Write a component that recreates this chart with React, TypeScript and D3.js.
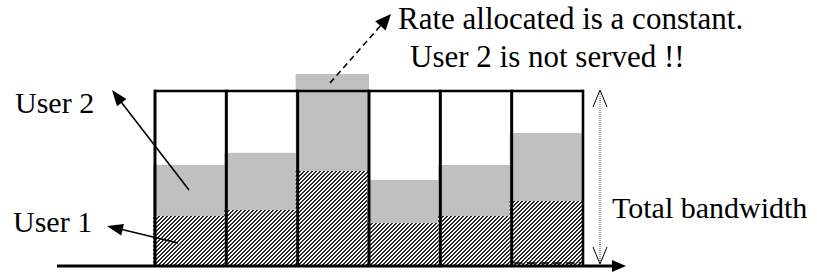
import React from "react";
import * as d3 from "d3";

const slots = ["t1", "t2", "t3", "t4", "t5", "t6"];
const user1 = [28.2, 31.6, 54.0, 24.1, 28.2, 36.8];
const user2 = [29.3, 32.9, 55.8, 24.8, 29.3, 39.1];
const totalBandwidth = 100;

const W = 817;
const H = 278;
const FONT = "Liberation Serif";

export default function App() {
  const x = d3.scaleBand<string>().domain(slots).range([155, 583]).padding(0);
  const y = d3.scaleLinear().domain([0, totalBandwidth]).range([265, 91]);
  const bw = x.bandwidth();
  const y0 = y(0);
  const yTop = y(totalBandwidth);
  const line = d3.line<[number, number]>();

  const arrowHead = (tip: [number, number], from: [number, number], len: number, half: number) => {
    const dx = tip[0] - from[0];
    const dy = tip[1] - from[1];
    const d = Math.hypot(dx, dy);
    const ux = dx / d, uy = dy / d;
    const bx = tip[0] - ux * len, by = tip[1] - uy * len;
    const px = -uy, py = ux;
    return `M${tip[0]},${tip[1]}L${bx + px * half},${by + py * half}L${bx - px * half},${by - py * half}Z`;
  };

  const openHead = (tip: [number, number], dir: number) =>
    `M${tip[0] - 7},${tip[1] + dir * 17}L${tip[0]},${tip[1]}L${tip[0] + 7},${tip[1] + dir * 17}`;

  const u2from: [number, number] = [189, 190];
  const u2tip: [number, number] = [112, 90];
  const u1from: [number, number] = [178, 243];
  const u1tip: [number, number] = [107, 226];
  const rFrom: [number, number] = [330, 83];
  const rTip: [number, number] = [391, 14];

  const hatchCells: [number, number][] = [
    [2, 0], [3, 0], [1, 1], [2, 1], [0, 2], [1, 2], [0, 3], [3, 3],
  ];

  return (
    <svg width={W} height={H} style={{ position: "absolute", left: 0, top: 0, background: "#fff", fontFamily: FONT }}>
      <defs>
        <pattern id="hatch" patternUnits="userSpaceOnUse" width={4} height={4}>
          <rect width={4} height={4} fill="#fff" />
          {hatchCells.map(([cx, cy], k) => (
            <rect key={k} x={cx} y={cy} width={1} height={1} fill="#2a2a2a" shapeRendering="crispEdges" />
          ))}
        </pattern>
      </defs>
      <rect width={W} height={H} fill="#fff" />
      {slots.map((s, i) => (
        <g key={s}>
          <rect x={x(s)! - 2} width={bw + 2} y={y(user1[i] + user2[i])} height={y0 - y(user1[i] + user2[i])} fill="#c0c0c0" />
          <rect x={x(s)! - 2} width={bw + 2} y={y(user1[i])} height={y0 - y(user1[i])} fill="url(#hatch)" />
        </g>
      ))}
      {/* frame */}
      <line x1={155} x2={583} y1={yTop} y2={yTop} stroke="#000" strokeWidth={2.6} />
      {slots.map((s) => (
        <line key={"v" + s} x1={x(s)!} x2={x(s)!} y1={yTop - 1.3} y2={y0} stroke="#000" strokeWidth={3} />
      ))}
      <line x1={583} x2={583} y1={yTop - 1.3} y2={y0} stroke="#000" strokeWidth={2.6} />
      <line x1={x("t6")! + 2} x2={581} y1={263} y2={263} stroke="#000" strokeWidth={1.5} strokeDasharray="9,4" />
      {/* axis */}
      <line x1={57} x2={614} y1={266} y2={266} stroke="#000" strokeWidth={3} />
      <path d={arrowHead([626, 266], [57, 266], 14, 6)} fill="#000" />
      {/* total bandwidth arrow */}
      <line x1={600} x2={600} y1={92} y2={262} stroke="#555" strokeWidth={1} strokeDasharray="1,1" />
      <path d={openHead([600, 90], 1)} fill="none" stroke="#000" strokeWidth={1} />
      <path d={openHead([600, 264], -1)} fill="none" stroke="#000" strokeWidth={1} />
      <text x={612} y={218} fontFamily={FONT} fontSize={30} fill="#000">Total bandwidth</text>
      {/* user arrows */}
      <path d={line([u2from, [u2tip[0] + 8, u2tip[1] + 10.5]])!} stroke="#000" strokeWidth={1.6} fill="none" />
      <path d={arrowHead(u2tip, u2from, 16, 6)} fill="#000" />
      <path d={line([u1from, [u1tip[0] + 14, u1tip[1] + 3.3]])!} stroke="#000" strokeWidth={1.6} fill="none" />
      <path d={arrowHead(u1tip, u1from, 16, 6)} fill="#000" />
      <text x={15} y={113} fontFamily={FONT} fontSize={30} fill="#000">User 2</text>
      <text x={13} y={232} fontFamily={FONT} fontSize={30} fill="#000">User 1</text>
      {/* rate arrow */}
      <path d={line([rFrom, [rTip[0] - 9, rTip[1] + 10]])!} stroke="#000" strokeWidth={1.6} strokeDasharray="6,4" fill="none" />
      <path d={arrowHead(rTip, rFrom, 16, 7)} fill="#000" />
      <text x={398} y={29} fontFamily={FONT} fontSize={31} fill="#000">Rate allocated is a constant.</text>
      <text x={410} y={67} fontFamily={FONT} fontSize={31} fill="#000">User 2 is not served !!</text>
    </svg>
  );
}
